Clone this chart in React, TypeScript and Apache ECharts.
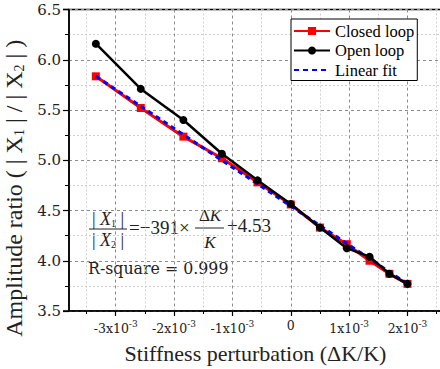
import React, { useEffect, useRef } from "react";
import * as echarts from "echarts";

// x values in units of 1e-3 (ΔK/K)
const xValues = [-3.34, -2.57, -1.84, -1.18, -0.57, 0, 0.5, 0.96, 1.35, 1.69, 2.0];
const closedLoop = [5.835, 5.52, 5.235, 5.02, 4.78, 4.56, 4.33, 4.165, 4.0, 3.87, 3.77];
const openLoop = [6.16, 5.71, 5.4, 5.065, 4.8, 4.565, 4.33, 4.125, 4.04, 3.87, 3.77];
const fitX = [-3.34, 2.0];
const fitY = [5.835, 3.77];

const xMajorTicks = [-3, -2, -1, 0, 1, 2];
const xMinorTicks = [-3.5, -2.5, -1.5, -0.5, 0.5, 1.5, 2.5];
const xMin = -3.8;
const xMax = 2.9;
const yMin = 3.5;
const yMax = 6.5;
const yStep = 0.5;

const seriesNames = ["Closed loop", "Open loop", "Linear fit"];

const SERIF = "Liberation Serif";
const SERIF2 = "DejaVu Serif";

export default function App() {
  const ref = useRef<HTMLDivElement>(null);

  useEffect(() => {
    if (!ref.current) return;
    const chart = echarts.init(ref.current, null, { renderer: "svg" });
    const pairs = (xs: number[], ys: number[]) => xs.map((x, i) => [x, ys[i]]);

    const gridLeft = 69;
    const gridTop = 9.5;
    const gridBottom = 369 - 311;

    chart.setOption({
      animation: false,
      backgroundColor: "#fff",
      grid: {
        left: gridLeft,
        right: 20,
        top: gridTop,
        bottom: gridBottom,
        show: true,
        borderColor: "#000",
        borderWidth: 1.5,
        containLabel: false,
        outerBoundsMode: "none",
      },
      legend: {
        data: [
          { name: seriesNames[0] },
          { name: seriesNames[1] },
          { name: seriesNames[2], itemStyle: { opacity: 0 } },
        ],
        left: 291,
        top: 19,
        orient: "vertical",
        backgroundColor: "#fff",
        borderColor: "#000",
        borderWidth: 1,
        borderRadius: 0,
        padding: [3.5, 3, 2, 2],
        itemGap: 2.5,
        itemWidth: 36,
        itemHeight: 10,
        textStyle: { fontFamily: SERIF, fontSize: 16.5, color: "#000" },
      },
      xAxis: [
        {
          type: "value",
          min: xMin,
          max: xMax,
          position: "bottom",
          axisLine: { show: true, onZero: false, lineStyle: { color: "#000", width: 1.5 } },
          axisTick: {
            show: true,
            customValues: xMajorTicks,
            length: 5,
            lineStyle: { color: "#000", width: 1.2 },
          },
          axisLabel: {
            customValues: xMajorTicks,
            margin: 8,
            formatter: (v: number) => (v === 0 ? "{n|0}" : `{n|${v}x10}{s|-3}`),
            rich: {
              n: { fontFamily: SERIF2, fontSize: 12.5, color: "#222" },
              s: { fontFamily: SERIF2, fontSize: 9, color: "#222", padding: [0, 0, 9, 0] },
            },
          },
          splitLine: {
            show: true,
            lineStyle: { color: "#8c8c8c", type: [3, 3], width: 1 },
          },
          name: "Stiffness perturbation (ΔK/K)",
          nameLocation: "middle",
          nameGap: 31,
          nameTextStyle: { fontFamily: SERIF, fontSize: 22, color: "#222", padding: [0, 18, 0, 0] },
        },
        {
          type: "value",
          min: xMin,
          max: xMax,
          position: "bottom",
          axisLine: { show: false, onZero: false },
          axisTick: {
            show: true,
            customValues: xMinorTicks,
            length: 3,
            lineStyle: { color: "#000", width: 1 },
          },
          axisLabel: { show: false, customValues: xMinorTicks },
          splitLine: {
            show: true,
            lineStyle: { color: "#cfcfcf", type: [2, 2], width: 1 },
          },
        },
      ],
      yAxis: {
        type: "value",
        min: yMin,
        max: yMax,
        interval: yStep,
        axisLine: { show: true, onZero: false, lineStyle: { color: "#000", width: 1.5 } },
        axisTick: { show: true, length: 6, lineStyle: { color: "#000", width: 1.2 } },
        minorTick: { show: true, splitNumber: 2, length: 4, lineStyle: { color: "#000", width: 1 } },
        minorSplitLine: { show: true, lineStyle: { color: "#cfcfcf", type: [2, 2], width: 1 } },
        splitLine: { show: true, lineStyle: { color: "#8c8c8c", type: [3, 3], width: 1 } },
        axisLabel: {
          formatter: (v: number) => v.toFixed(1),
          fontFamily: SERIF2,
          fontSize: 15,
          color: "#222",
          margin: 8,
        },
        name: "Amplitude ratio ( | X{s|1} | / | X{s|2} | )",
        nameLocation: "middle",
        nameGap: 36,
        nameTextStyle: {
          fontFamily: SERIF,
          fontSize: 24,
          color: "#222",
          padding: [0, 56, 0, 0],
          rich: {
            s: { fontFamily: SERIF, fontSize: 14, color: "#222", padding: [10, 0, 0, 0] },
          },
        },
      },
      series: [
        {
          name: seriesNames[0],
          type: "line",
          data: pairs(xValues, closedLoop),
          symbol: "rect",
          symbolSize: 8,
          itemStyle: { color: "#ff0000" },
          lineStyle: { color: "#ff0000", width: 3 },
          z: 2,
        },
        {
          name: seriesNames[1],
          type: "line",
          data: pairs(xValues, openLoop),
          symbol: "circle",
          symbolSize: 8,
          itemStyle: { color: "#000" },
          lineStyle: { color: "#000", width: 2.5 },
          z: 4,
        },
        {
          name: seriesNames[2],
          type: "line",
          data: pairs(fitX, fitY),
          symbol: "none",
          itemStyle: { color: "#0000ff" },
          lineStyle: { color: "#0000ff", width: 3, type: [5, 4] },
          z: 3,
        },
      ],
      graphic: [
        { type: "line", shape: { x1: 63, y1: 9.5, x2: 69, y2: 9.5 }, style: { stroke: "#000", lineWidth: 1.5 } },
        { type: "line", shape: { x1: 63, y1: 311, x2: 69, y2: 311 }, style: { stroke: "#000", lineWidth: 1.5 } },
        {
          type: "text",
          x: 108,
          y: 219,
          style: {
            text: "| {i|X}{s|1} |",
            fontFamily: SERIF,
            fontSize: 18,
            fill: "#222",
            align: "center",
            verticalAlign: "middle",
            rich: {
              i: { fontFamily: SERIF, fontSize: 18, fontStyle: "italic", fill: "#222" },
              s: { fontFamily: SERIF, fontSize: 10, fill: "#222", padding: [8, 0, 0, 0] },
            },
          },
        },
        { type: "line", shape: { x1: 89, y1: 229, x2: 127, y2: 229 }, style: { stroke: "#222", lineWidth: 1 } },
        {
          type: "text",
          x: 108,
          y: 240,
          style: {
            text: "| {i|X}{s|2} |",
            fontFamily: SERIF,
            fontSize: 18,
            fill: "#222",
            align: "center",
            verticalAlign: "middle",
            rich: {
              i: { fontFamily: SERIF, fontSize: 18, fontStyle: "italic", fill: "#222" },
              s: { fontFamily: SERIF, fontSize: 10, fill: "#222", padding: [8, 0, 0, 0] },
            },
          },
        },
        {
          type: "text",
          x: 129,
          y: 227,
          style: {
            text: "=−391×",
            fontFamily: SERIF,
            fontSize: 19,
            fill: "#222",
            align: "left",
            verticalAlign: "middle",
          },
        },
        {
          type: "text",
          x: 210,
          y: 215,
          style: {
            text: "Δ{i|K}",
            fontFamily: SERIF,
            fontSize: 17,
            fill: "#222",
            align: "center",
            verticalAlign: "middle",
            rich: { i: { fontFamily: SERIF, fontSize: 17, fontStyle: "italic", fill: "#222" } },
          },
        },
        { type: "line", shape: { x1: 195, y1: 228, x2: 224, y2: 228 }, style: { stroke: "#222", lineWidth: 1 } },
        {
          type: "text",
          x: 210,
          y: 242,
          style: {
            text: "K",
            fontFamily: SERIF,
            fontSize: 17,
            fontStyle: "italic",
            fill: "#222",
            align: "center",
            verticalAlign: "middle",
          },
        },
        {
          type: "text",
          x: 227,
          y: 225,
          style: {
            text: "+4.53",
            fontFamily: SERIF,
            fontSize: 19,
            fill: "#222",
            align: "left",
            verticalAlign: "middle",
          },
        },
        {
          type: "text",
          x: 88,
          y: 268,
          style: {
            text: "R-square = 0.999",
            fontFamily: SERIF2,
            fontSize: 15.8,
            fill: "#222",
            align: "left",
            verticalAlign: "middle",
          },
        },
      ],
    });

    return () => chart.dispose();
  }, []);

  return (
    <div
      style={{
        position: "fixed",
        left: 0,
        top: 0,
        width: 440,
        height: 369,
        overflow: "hidden",
        background: "#fff",
      }}
    >
      <div ref={ref} style={{ width: 480, height: 369 }} />
    </div>
  );
}
